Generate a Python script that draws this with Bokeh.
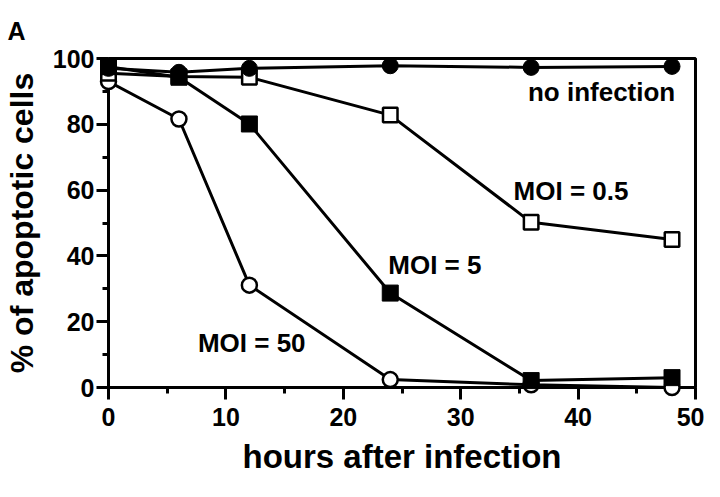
from bokeh.plotting import figure
from bokeh.models import Range1d, Label, FixedTicker
from bokeh.embed import file_html
from bokeh.resources import INLINE

# ---- data ----
hours = [0, 6, 12, 24, 36, 48]
no_infection = [97.0, 95.8, 97.0, 97.8, 97.3, 97.6]
moi_05 = [95.5, 94.5, 94.3, 82.8, 50.2, 45.0]
moi_5 = [97.5, 94.3, 80.1, 28.7, 2.1, 3.0]
moi_50 = [93.0, 81.6, 31.1, 2.4, 0.8, 0.0]

x_ticks = [0, 10, 20, 30, 40, 50]
y_ticks = [0, 20, 40, 60, 80, 100]
x_minor = [(a + b) / 2 for a, b in zip(x_ticks[:-1], x_ticks[1:])]
y_minor = [(a + b) / 2 for a, b in zip(y_ticks[:-1], y_ticks[1:])]

FONT = "Liberation Sans"

p = figure(width=704, height=481, output_backend="svg", toolbar_location=None,
           x_range=Range1d(0, 50), y_range=Range1d(0, 100),
           min_border_left=102, min_border_right=9, min_border_top=56,
           min_border_bottom=94, background_fill_color="white",
           border_fill_color="white")
p.grid.visible = False
p.outline_line_color = "black"
p.outline_line_width = 3
p.outline_line_alpha = 1.0

# panel letter
p.title.text = "A"
p.title.align = "left"
p.title.offset = -101
p.title.text_font = FONT
p.title.text_font_style = "bold"
p.title.text_font_size = "25px"
p.title.text_color = "black"
p.title.standoff = 28

for ax, ticks, minor in ((p.xaxis, x_ticks, x_minor), (p.yaxis, y_ticks, y_minor)):
    ax.ticker = FixedTicker(ticks=ticks, minor_ticks=minor)
    ax.axis_line_width = 3
    ax.axis_line_color = "black"
    ax.major_tick_line_width = 3
    ax.minor_tick_line_width = 3
    ax.major_tick_out = 12
    ax.major_tick_in = 0
    ax.minor_tick_out = 6
    ax.minor_tick_in = 0
    ax.major_label_text_font = FONT
    ax.major_label_text_font_style = "bold"
    ax.major_label_text_font_size = "25px"
    ax.major_label_text_color = "black"
    ax.axis_label_text_font = FONT
    ax.axis_label_text_font_style = "bold"
    ax.axis_label_text_color = "black"

p.xaxis.major_label_standoff = 8
p.yaxis.major_label_standoff = 2
p.xaxis.axis_label = "hours after infection"
p.yaxis.axis_label = "% of apoptotic cells"
p.xaxis.axis_label_text_font_size = "33px"
p.yaxis.axis_label_text_font_size = "32px"
p.xaxis.axis_label_standoff = 9
p.yaxis.axis_label_standoff = 10

# lines
for series in (moi_50, moi_5, moi_05, no_infection):
    p.line(hours, series, line_color="black", line_width=3)

# markers (not clipped at the frame edge)
p.scatter(hours, moi_50, marker="circle", size=15, fill_color="white",
          line_color="black", line_width=2.5, level="overlay")
p.scatter(hours, moi_05, marker="square", size=14.5, fill_color="white",
          line_color="black", line_width=2.5, level="overlay")
p.scatter(hours, moi_5, marker="square", size=16, fill_color="black",
          line_color="black", line_width=1, level="overlay")
p.scatter(hours, no_infection, marker="circle", size=16, fill_color="black",
          line_color="black", line_width=1, level="overlay")

def add_label(x, y, text, size="26px"):
    p.add_layout(Label(x=x, y=y, text=text, text_font=FONT, text_font_style="bold",
                       text_font_size=size, text_color="black",
                       text_align="center", text_baseline="middle"))

add_label(42.0, 89.7, "no infection")
add_label(39.4, 59.8, "MOI = 0.5")
add_label(27.8, 37.2, "MOI = 5")
add_label(12.2, 13.6, "MOI = 50")

open("out.html", "w").write(file_html(p, INLINE))
